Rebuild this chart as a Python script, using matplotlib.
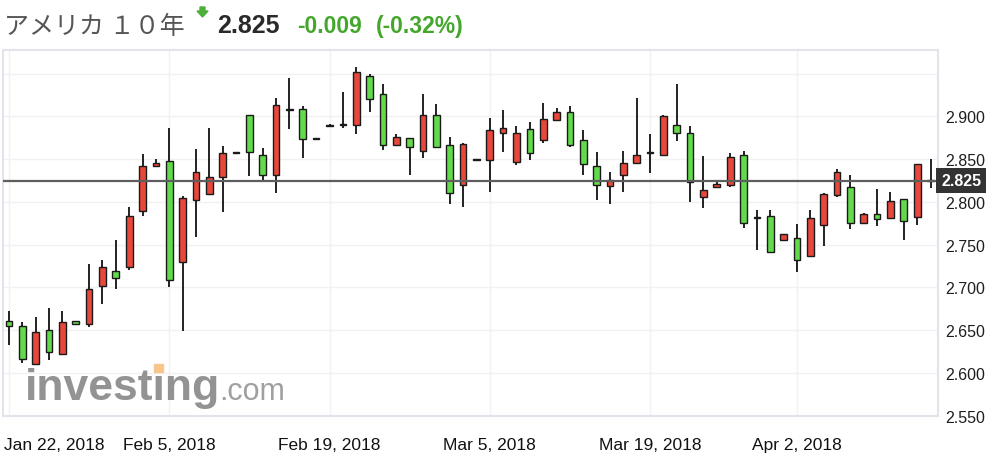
import numpy as np
import matplotlib
matplotlib.use("Agg")
import matplotlib.pyplot as plt
from matplotlib.patches import Polygon, Rectangle
from matplotlib.transforms import blended_transform_factory

# ─────────────────────────────
# 1. DATA (daily candles, incl. Sunday sessions)
# ─────────────────────────────
dates = [
    "01-22", "01-23", "01-24", "01-25", "01-26", "01-28",
    "01-29", "01-30", "01-31", "02-01", "02-02", "02-04",
    "02-05", "02-06", "02-07", "02-08", "02-09", "02-11",
    "02-12", "02-13", "02-14", "02-15", "02-16", "02-18",
    "02-19", "02-20", "02-21", "02-22", "02-23", "02-25",
    "02-26", "02-27", "02-28", "03-01", "03-02", "03-04",
    "03-05", "03-06", "03-07", "03-08", "03-09", "03-11",
    "03-12", "03-13", "03-14", "03-15", "03-16", "03-18",
    "03-19", "03-20", "03-21", "03-22", "03-23", "03-25",
    "03-26", "03-27", "03-28", "03-29", "04-01",
    "04-02", "04-03", "04-04", "04-05", "04-06", "04-08",
    "04-09", "04-10", "04-11", "04-12", "04-13",
]

opens = [
    2.661, 2.655, 2.610, 2.650, 2.622, 2.661,
    2.657, 2.702, 2.719, 2.724, 2.789, 2.842,
    2.8475, 2.730, 2.802, 2.809, 2.829, 2.857,
    2.902, 2.855, 2.832, 2.908, 2.909, 2.874,
    2.889, 2.890, 2.890, 2.947, 2.926, 2.866,
    2.875, 2.860, 2.902, 2.866, 2.820, 2.849,
    2.849, 2.881, 2.847, 2.885, 2.872, 2.896,
    2.905, 2.872, 2.842, 2.819, 2.831, 2.845,
    2.857, 2.855, 2.890, 2.881, 2.806, 2.818,
    2.820, 2.855, 2.781, 2.784, 2.755,
    2.758, 2.737, 2.773, 2.808, 2.818, 2.775,
    2.786, 2.781, 2.803, 2.782, 2.825,
]
highs = [
    2.672, 2.659, 2.665, 2.676, 2.672, 2.661,
    2.727, 2.732, 2.755, 2.794, 2.856, 2.850,
    2.886, 2.807, 2.862, 2.886, 2.865, 2.857,
    2.902, 2.863, 2.921, 2.945, 2.912, 2.874,
    2.891, 2.928, 2.958, 2.950, 2.938, 2.880,
    2.875, 2.926, 2.914, 2.876, 2.869, 2.849,
    2.898, 2.908, 2.889, 2.893, 2.916, 2.910,
    2.912, 2.884, 2.858, 2.835, 2.859, 2.921,
    2.880, 2.902, 2.938, 2.889, 2.854, 2.823,
    2.857, 2.859, 2.790, 2.791, 2.763,
    2.774, 2.790, 2.811, 2.839, 2.831, 2.787,
    2.815, 2.812, 2.803, 2.844, 2.850,
]
lows = [
    2.633, 2.612, 2.609, 2.615, 2.621, 2.657,
    2.654, 2.681, 2.698, 2.720, 2.784, 2.842,
    2.700, 2.649, 2.759, 2.809, 2.788, 2.857,
    2.830, 2.823, 2.810, 2.885, 2.851, 2.874,
    2.888, 2.886, 2.879, 2.905, 2.861, 2.866,
    2.832, 2.851, 2.864, 2.797, 2.794, 2.849,
    2.812, 2.858, 2.843, 2.849, 2.869, 2.896,
    2.864, 2.832, 2.802, 2.798, 2.812, 2.845,
    2.834, 2.855, 2.871, 2.800, 2.793, 2.818,
    2.817, 2.770, 2.744, 2.742, 2.755,
    2.718, 2.737, 2.749, 2.806, 2.768, 2.775,
    2.772, 2.781, 2.755, 2.773, 2.816,
]
closes = [
    2.655, 2.616, 2.648, 2.624, 2.659, 2.657,
    2.6985, 2.724, 2.711, 2.783, 2.842, 2.846,
    2.709, 2.805, 2.835, 2.829, 2.857, 2.857,
    2.858, 2.832, 2.913, 2.908, 2.874, 2.874,
    2.889, 2.890, 2.952, 2.920, 2.866, 2.876,
    2.864, 2.902, 2.864, 2.811, 2.868, 2.849,
    2.884, 2.887, 2.881, 2.857, 2.8965, 2.905,
    2.866, 2.844, 2.820, 2.826, 2.846, 2.855,
    2.857, 2.900, 2.881, 2.823, 2.814, 2.821,
    2.853, 2.775, 2.781, 2.742, 2.762,
    2.732, 2.781, 2.809, 2.835, 2.775, 2.786,
    2.780, 2.801, 2.778, 2.844, 2.825,
]

tick_dates = ["01-22", "02-05", "02-19", "03-05", "03-19", "04-02"]
tick_labels = ["Jan 22, 2018", "Feb 5, 2018", "Feb 19, 2018",
               "Mar 5, 2018", "Mar 19, 2018", "Apr 2, 2018"]
y_ticks = [2.55, 2.60, 2.65, 2.70, 2.75, 2.80, 2.85, 2.90, 2.95]

title = "アメリカ １０年"
last_price = 2.825
change = "-0.009"
change_pct = "(-0.32%)"

# ─────────────────────────────
# 2. STYLE
# ─────────────────────────────
UP = "#e8473b"
DOWN = "#62da4c"
GAIN_TXT = "#44a72c"
W, H = 996, 464

def px(x, y):
    # pixel (top-left origin) -> figure fraction
    return x / W, 1 - y / H

fig = plt.figure(figsize=(W / 100, H / 100), dpi=100)
ax = fig.add_axes([2.7 / W, 1 - 416.7 / H, (938 - 2.7) / W, (416.7 - 50.7) / H])

x = np.arange(len(dates))
o = np.array(opens)
c = np.array(closes)

colors = []
for oo, cc in zip(o, c):
    if abs(cc - oo) < 0.0008:
        colors.append("#1a1a1a")
    elif cc > oo:
        colors.append(UP)
    else:
        colors.append(DOWN)

bottoms = np.minimum(o, c)
heights = np.maximum(np.abs(c - o), 0.0012)

ax.vlines(x, lows, highs, color="#111111", lw=1.3, zorder=2)
ax.bar(x, heights, bottom=bottoms, width=0.5, color=colors,
       edgecolor="#1a1a1a", linewidth=1.0, zorder=3)

# current price line
ax.axhline(last_price, color="#5e5e5e", lw=1.6, zorder=4)

# ─────────────────────────────
# 3. AXES
# ─────────────────────────────
ax.set_xlim(-0.47, 69.56)
ax.set_ylim(2.5505, 2.978)

tick_pos = [dates.index(d) for d in tick_dates]
ax.set_xticks(tick_pos)
ax.set_xticklabels([])
ax.set_yticks(y_ticks)
ax.set_yticklabels([f"{v:.3f}" if v < 2.93 else "" for v in y_ticks])
ax.yaxis.tick_right()
ax.tick_params(length=0)
ax.tick_params(axis="y", pad=5, labelsize=11.5, labelcolor="#1e1e1e")
for lbl in ax.get_yticklabels():
    lbl.set_fontfamily("Liberation Sans")

ax.grid(True, color="#f1f1f3", lw=1.0)
ax.set_axisbelow(True)
for sp in ax.spines.values():
    sp.set_color("#e3e3ec")
    sp.set_linewidth(1.5)

# date labels
tr = blended_transform_factory(ax.transData, ax.transAxes)
for i, (p, lab) in enumerate(zip(tick_pos, tick_labels)):
    if i == 0:
        ax.text(-0.4, -0.079, lab, transform=tr, ha="left", va="center",
                fontsize=12.5, family="Liberation Sans", color="#111")
    else:
        ax.text(p, -0.079, lab, transform=tr, ha="center", va="center",
                fontsize=12.5, family="Liberation Sans", color="#111")

# price tag on the right
tr2 = blended_transform_factory(ax.transAxes, ax.transData)
ax.text(1.0035, last_price, f"{last_price:.3f}", transform=tr2,
        ha="left", va="center", fontsize=11.5, fontweight="bold",
        family="Liberation Sans", color="white", clip_on=False, zorder=6,
        bbox=dict(boxstyle="square,pad=0.3", fc="#333333", ec="none"))

# watermark
fig.text(*px(25, 400), "investing", fontsize=32, fontweight="bold",
         family="Liberation Sans", color="#8d8d8d", alpha=0.95, zorder=0.5)
fig.text(*px(219, 400), ".com", fontsize=22, family="Liberation Sans",
         color="#9b9b9b", alpha=0.95, zorder=0.5)
fig.patches.append(Rectangle(px(154, 373), 9 / W, 8 / H,
                             transform=fig.transFigure, color="#f6c68c",
                             zorder=0.6))

# ─────────────────────────────
# 4. HEADER
# ─────────────────────────────
fig.text(*px(4, 34), title, fontsize=18, color="#555555",
         family=["Noto Sans CJK JP", "DejaVu Sans"], va="baseline")

arrow = [(200, 8), (205, 8), (205, 12), (208, 12), (202.5, 18),
         (197, 12), (200, 12)]
fig.patches.append(Polygon([px(a, b) for a, b in arrow], closed=True,
                           transform=fig.transFigure, color="#4caf3a"))

fig.text(*px(217, 33), f"{last_price:.3f}", fontsize=18, fontweight="bold",
         family="Liberation Sans", color="#2a2a2a", va="baseline")
fig.text(*px(297, 33), change, fontsize=16.5, fontweight="bold",
         family="Liberation Sans", color=GAIN_TXT, va="baseline")
fig.text(*px(376, 33), change_pct, fontsize=16.5, fontweight="bold",
         family="Liberation Sans", color=GAIN_TXT, va="baseline")

fig.savefig("out.png", dpi=100)
